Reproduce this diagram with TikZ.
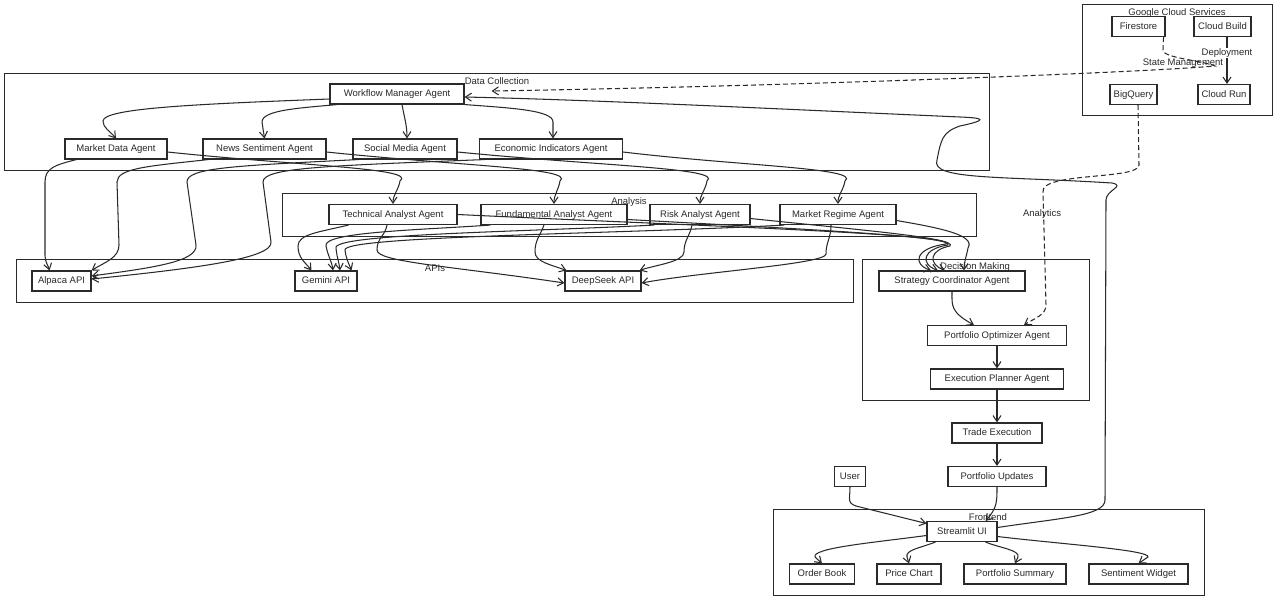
\documentclass[tikz,border=0pt]{standalone}
\usepackage{fontspec}
\setmainfont{Liberation Sans}
\usetikzlibrary{arrows.meta,calc}
\definecolor{ink}{HTML}{2A2A2A}
\begin{document}
\begin{tikzpicture}[x=1pt,y=-1pt,
  box/.style={draw=ink, fill=white, line width=1.1pt, minimum height=20pt, inner xsep=2pt, inner ysep=0pt, text height=6.8pt, text depth=1.6pt, text=ink, font=\fontsize{9.5}{11}\selectfont},
  grp/.style={draw=ink, line width=0.9pt},
  glabel/.style={font=\fontsize{9.5}{11}\selectfont, text=ink, inner sep=1pt},
  edge/.style={draw=ink, line width=1.05pt, -{Straight Barb[length=6pt,width=8pt]}},
  dedge/.style={edge, dash pattern=on 5pt off 3pt},
  elabel/.style={font=\fontsize{9.5}{11}\selectfont, text=ink, inner sep=1pt}
]
\useasboundingbox (0,0) rectangle (1280,600);

% groups
\draw[grp] (4,73) rectangle (989,170);
\draw[grp] (282,193) rectangle (976,236);
\draw[grp] (16,259) rectangle (853,302);
\draw[grp] (862,259) rectangle (1089,400);
\draw[grp] (1082,4) rectangle (1272,115);
\draw[grp] (773,509) rectangle (1204,595);

% nodes
\node[box, minimum width=134pt] (wm) at (397,94) {Workflow Manager Agent};
\node[box, minimum width=102pt] (md) at (116,149) {Market Data Agent};
\node[box, minimum width=123pt] (news) at (264.5,149) {News Sentiment Agent};
\node[box, minimum width=104pt] (social) at (405,149) {Social Media Agent};
\node[box, minimum width=143pt] (econ) at (551,149) {Economic Indicators Agent};

\node[box, minimum width=128pt] (tech) at (393,214.5) {Technical Analyst Agent};
\node[box, minimum width=146pt] (fund) at (554,214.5) {Fundamental Analyst Agent};
\node[box, minimum width=100pt] (risk) at (700,214.5) {Risk Analyst Agent};
\node[box, minimum width=116pt] (regime) at (838,214.5) {Market Regime Agent};

\node[box, minimum width=59pt] (alp) at (61.5,281) {Alpaca API};
\node[box, minimum width=62pt] (gem) at (326,281) {Gemini API};
\node[box, minimum width=76pt] (ds) at (603,281) {DeepSeek API};

\node[box, minimum width=146pt] (strat) at (952,281) {Strategy Coordinator Agent};
\node[box, minimum width=139pt] (po) at (997,335.5) {Portfolio Optimizer Agent};
\node[box, minimum width=133pt] (ep) at (997,379) {Execution Planner Agent};
\node[box, minimum width=90pt] (trade) at (997,433) {Trade Execution};
\node[box, minimum width=98pt] (pu) at (997,476.5) {Portfolio Updates};
\node[box, minimum width=31pt] (user) at (850,476.5) {User};

\node[box, minimum width=70pt] (st) at (962,531.5) {Streamlit UI};
\node[box, minimum width=65pt] (ob) at (822,574) {Order Book};
\node[box, minimum width=64pt] (pc) at (909,574) {Price Chart};
\node[box, minimum width=102pt] (ps) at (1015,574) {Portfolio Summary};
\node[box, minimum width=99pt] (sw) at (1138.5,574) {Sentiment Widget};

\node[box, minimum width=53pt] (fs) at (1138.5,26.5) {Firestore};
\node[box, minimum width=57pt] (cb) at (1222.5,26.5) {Cloud Build};
\node[box, minimum width=47pt] (bq) at (1133.5,94.5) {BigQuery};
\node[box, minimum width=52pt] (cr) at (1224,94.5) {Cloud Run};

% group labels
\node[glabel] (gDC) at (497,81) {Data Collection};
\node[glabel] (gAN) at (629,202) {Analysis};
\node[glabel] (gAP) at (435,268) {APIs};
\node[glabel] (gDM) at (975,267) {Decision Making};
\node[glabel] (gGC) at (1177,13) {Google Cloud Services};
\node[glabel] (gFE) at (988,517) {Frontend};

% workflow manager -> data agents
\draw[edge] ($(wm.west)+(0,5)$) .. controls (200,104) and (103,108) .. (103,121) .. controls (103,128) and (110,131) .. (md.north);
\draw[edge] ($(wm.south west)+(8,0)$) .. controls (300,108) and (262,110) .. (262,122) -- (news.north);
\draw[edge] ($(wm.south)+(5,0)$) to[out=-80,in=90] ($(social.north)+(2,0)$);
\draw[edge] (wm.south east) .. controls (510,108) and (553,110) .. (553,122) -- ($(econ.north)+(2,0)$);

% data agents -> Alpaca
\draw[edge] ($(md.south west)+(12,0)$) .. controls (55,165) and (45,168) .. (45,182) -- (45,255) .. controls (45,262) and (48,265) .. ($(alp.north west)+(18,0)$);
\draw[edge] ($(news.south west)+(6,0)$) .. controls (150,166) and (117,168) .. (117,182) -- (119,245) .. controls (119,258) and (105,262) .. (alp.north east);
\draw[edge] ($(social.south west)+(6,0)$) .. controls (230,166) and (187,168) .. (187,182) -- (196,245) .. controls (198,262) and (150,268) .. ($(alp.east)+(0,-5)$);
\draw[edge] ($(econ.south west)+(6,0)$) .. controls (320,166) and (263,168) .. (263,182) -- (271,242) .. controls (273,258) and (200,268) .. ($(alp.east)+(0,-2)$);

% data agents -> analysis agents
\draw[edge] ($(md.east)+(0,3)$) .. controls (300,166) and (418,168) .. (400,181) to[out=-100,in=90] (tech.north);
\draw[edge] ($(news.east)+(0,3)$) .. controls (460,166) and (576,168) .. (560,181) to[out=-100,in=90] (fund.north);
\draw[edge] ($(social.east)+(0,3)$) .. controls (600,166) and (724,168) .. (707,181) to[out=-100,in=90] (risk.north);
\draw[edge] ($(econ.east)+(0,3)$) .. controls (740,166) and (862,168) .. (845,181) to[out=-100,in=90] (regime.north);

% analysis -> Gemini
\draw[edge] ($(tech.south west)+(20,0)$) .. controls (320,232) and (298,234) .. (298,246) .. controls (298,258) and (305,262) .. ($(gem.north west)+(17,0)$);
\draw[edge] ($(fund.south west)+(10,0)$) .. controls (420,230) and (322,232) .. (326,246) .. controls (328,256) and (332,262) .. ($(gem.north)+(7,0)$);
\draw[edge] ($(risk.south west)+(5,0)$) .. controls (520,232) and (332,234) .. (336,248) .. controls (337,258) and (339,262) .. ($(gem.north)+(14,0)$);
\draw[edge] ($(regime.south west)+(5,0)$) .. controls (620,234) and (342,236) .. (345,250) .. controls (346,258) and (348,262) .. ($(gem.north east)+(-6,0)$);

% analysis -> DeepSeek
\draw[edge] ($(tech.south)+(-6,0)$) .. controls (385,236) and (377,238) .. (377,250) .. controls (377,262) and (450,266) .. ($(ds.west)+(0,2)$);
\draw[edge] ($(fund.south)+(-10,0)$) .. controls (540,236) and (535,240) .. (535,252) .. controls (535,262) and (552,265) .. ($(ds.north west)+(2,0)$);
\draw[edge] ($(risk.south)+(-8,0)$) .. controls (690,236) and (684,240) .. (684,252) .. controls (684,262) and (655,265) .. ($(ds.north east)+(-2,0)$);
\draw[edge] ($(regime.south)+(-7,0)$) .. controls (831,238) and (826,242) .. (826,254) .. controls (826,264) and (700,272) .. ($(ds.east)+(0,2)$);

% analysis -> strategy coordinator
\draw[edge] (tech.east) .. controls (700,226) and (958,234) .. (946,244) .. controls (915,248) and (912,264) .. ($(strat.north)+(-21,0)$);
\draw[edge] ($(fund.east)+(0,5)$) .. controls (780,228) and (958,236) .. (948,245) .. controls (922,249) and (920,264) .. ($(strat.north)+(-14,0)$);
\draw[edge] ($(risk.east)+(0,4)$) .. controls (860,230) and (958,238) .. (950,246) .. controls (929,250) and (928,264) .. ($(strat.north)+(-7,0)$);
\draw[edge] ($(regime.east)+(0,6)$) .. controls (940,228) and (976,235) .. (968,248) to[out=-100,in=90] ($(strat.north)+(12,0)$);

% decision chain
\draw[edge] (strat.south) .. controls (952,305) and (950,312) .. ($(po.north west)+(47,0)$);
\draw[edge] (po.south) -- (ep.north);
\draw[edge] (ep.south) -- (trade.north);
\draw[edge] (trade.south) -- (pu.north);
\draw[edge] (pu.south) .. controls (997,502) and (997,508) .. ($(st.north east)+(-12,0)$);
\draw[edge] (user.south) .. controls (850,500) and (846,504) .. (860,507) -- ($(st.west)+(0,-8)$);

% streamlit -> workflow manager
\draw[edge] ($(st.east)+(0,-4)$) .. controls (1060,518) and (1105,516) .. (1105,500) -- (1106,200) .. controls (1106,190) and (1126,186) .. (1112,183) .. controls (1000,176) and (930,180) .. (937,160) .. controls (941,140) and (942,132) .. (960,126) .. controls (988,120) and (985,118) .. (960,117) .. controls (800,110) and (600,100) .. ($(wm.east)+(0,3)$);

% streamlit -> widgets
\draw[edge] ($(st.west)+(0,4)$) .. controls (870,543) and (812,548) .. (815,557) -- (ob.north);
\draw[edge] ($(st.south west)+(9,0)$) .. controls (920,548) and (905,550) .. (907,557) -- (pc.north);
\draw[edge] ($(st.south east)+(-12,0)$) .. controls (1000,548) and (1020,550) .. (1018,557) -- (ps.north);
\draw[edge] ($(st.east)+(0,5)$) .. controls (1060,544) and (1150,550) .. (1148,557) -- (sw.north);

% google cloud
\draw[dedge] ($(fs.south east)+(-2,0)$) -- (1163,50) .. controls (1163,58) and (1200,60) .. (1215,66) .. controls (1150,72) and (800,86) .. ($(wm.east)+(27,-3)$);
\node[elabel] (lSM) at (1183,63) {State Management};
\draw[edge] ($(cb.south)+(4.5,0)$) -- ($(cr.north)+(3,0)$);
\node[elabel, fill=white] (lDep) at (1227,53) {Deployment};
\draw[dedge] ($(bq.south)+(4.5,0)$) -- (1139,165) .. controls (1139,180) and (1040,172) .. (1043,192) -- (1046,305) .. controls (1046,315) and (1035,318) .. ($(po.north)+(27,0)$);
\node[elabel] (lAn) at (1042,214) {Analytics};
\end{tikzpicture}
\end{document}
